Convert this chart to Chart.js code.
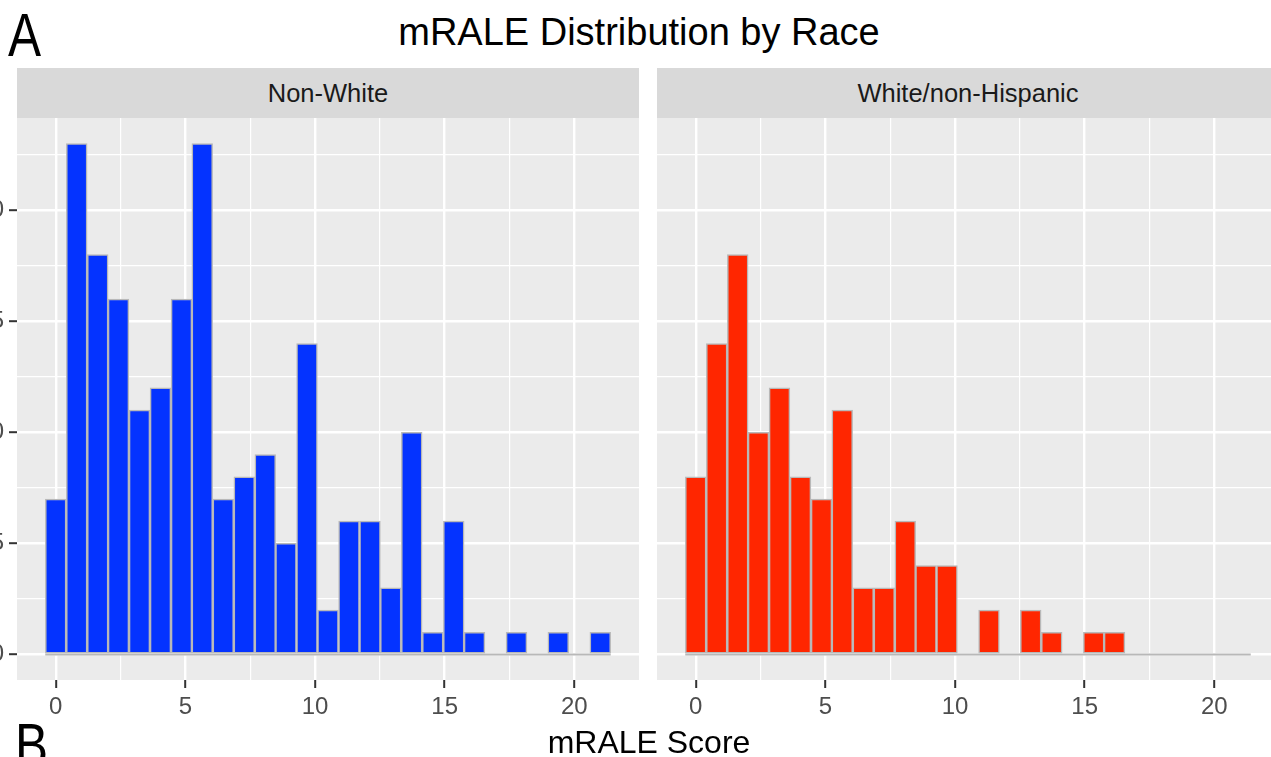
<!DOCTYPE html>
<html>
<head>
<meta charset="utf-8">
<title>mRALE Distribution by Race</title>
<script src="https://cdn.jsdelivr.net/npm/chart.js@4"></script>
<style>
  html, body {
    margin: 0;
    padding: 0;
    width: 1271px;
    height: 757px;
    overflow: hidden;
    background: #ffffff;
    font-family: 'Liberation Sans', Arial, Helvetica, sans-serif;
  }
  .abs { position: absolute; white-space: nowrap; line-height: 1; }
  .tag { font-size: 62px; color: #000; transform-origin: left top; transform: scaleX(0.8); }
  .strip {
    position: absolute;
    background: #d9d9d9;
    color: #1a1a1a;
    font-size: 25.5px;
    display: flex;
    align-items: center;
    justify-content: center;
  }
  canvas { position: absolute; }
</style>
</head>
<body>
<div class="abs tag" style="left:8px; top:4px;">A</div>
<div class="abs" style="left:0; width:1278px; top:13px; font-size:38px; text-align:center; color:#000;">mRALE Distribution by Race</div>

<div class="strip" style="left:17px; top:68px; width:622px; height:50px;">Non-White</div>
<div class="strip" style="left:657px; top:68px; width:622px; height:50px;">White/non-Hispanic</div>

<canvas id="nonWhiteChart" width="682" height="612" style="left:-43px; top:118px;"></canvas>
<canvas id="whiteChart" width="622" height="612" style="left:657px; top:118px;"></canvas>

<div class="abs" style="left:0; width:1298px; top:726px; font-size:32px; text-align:center; color:#000;">mRALE Score</div>
<div class="abs tag" style="left:15px; top:714px;">B</div>

<script>
// Histogram bins (mRALE score, bin midpoints) and counts per panel
const binCenters = [0, 0.81, 1.62, 2.42, 3.23, 4.04, 4.85, 5.65, 6.46, 7.27, 8.08, 8.88, 9.69, 10.5,
    11.31, 12.12, 12.92, 13.73, 14.54, 15.35, 16.15, 16.96, 17.77, 18.58, 19.38, 20.19, 21];
const binWidth = 0.81;

const nonWhiteCounts = [7, 23, 18, 16, 11, 12, 16, 23, 7, 8, 9, 5, 14, 2,
    6, 6, 3, 10, 1, 6, 1, 0, 1, 0, 1, 0, 1];
const whiteCounts = [8, 14, 18, 10, 12, 8, 7, 11, 3, 3, 6, 4, 4, 0,
    2, 0, 2, 1, 0, 1, 1, 0, 0, 0, 0, 0, 0];

// Axis ranges and grid / tick values
const xRange = [-1.494, 22.494];
const yRange = [-1.15, 24.15];
const xGridValues = [0, 2.5, 5, 7.5, 10, 12.5, 15, 17.5, 20, 22.5];
const yGridValues = [0, 2.5, 5, 7.5, 10, 12.5, 15, 17.5, 20, 22.5];
const xTickLabels = [0, 5, 10, 15, 20];
const yTickLabels = [0, 5, 10, 15, 20];

Chart.defaults.font.family = "'Liberation Sans', Arial, Helvetica, sans-serif";

// Grey panel background behind the grid
const panelBackground = {
    id: 'panelBackground',
    beforeDraw(chart) {
        const { ctx, chartArea } = chart;
        ctx.save();
        ctx.fillStyle = '#ebebeb';
        ctx.fillRect(chartArea.left, chartArea.top, chartArea.right - chartArea.left, chartArea.bottom - chartArea.top);
        ctx.restore();
    }
};

// Major gridlines sit on labelled values, minor ones halfway between
const isMajor = (ctx, labels) => !!ctx.tick && labels.includes(ctx.tick.value);

const makePanel = (canvasId, counts, fillColor, showYAxis) => {
    const bars = binCenters.map((x, i) => ({ x: x, y: counts[i] }));
    const baseline = [
        { x: binCenters[0] - binWidth / 2, y: 0 },
        { x: binCenters[binCenters.length - 1] + binWidth / 2, y: 0 }
    ];

    return new Chart(document.getElementById(canvasId), {
        type: 'bar',
        data: {
            datasets: [{
                type: 'bar',
                data: bars,
                backgroundColor: fillColor,
                borderColor: '#b8b8b8',
                borderWidth: 1.5,
                borderSkipped: false,
                barPercentage: 1,
                categoryPercentage: 1,
                order: 1
            }, {
                type: 'line',
                data: baseline,
                borderColor: '#b8b8b8',
                borderWidth: 2,
                pointRadius: 0,
                order: 2
            }]
        },
        options: {
            responsive: false,
            animation: false,
            devicePixelRatio: 1,
            layout: { padding: 0 },
            plugins: { legend: { display: false }, tooltip: { enabled: false } },
            scales: {
                x: {
                    type: 'linear',
                    offset: false,
                    min: xRange[0],
                    max: xRange[1],
                    afterBuildTicks: (axis) => { axis.ticks = xGridValues.map(v => ({ value: v })); },
                    afterFit: (axis) => {
                        axis.height = 50;
                        axis.paddingLeft = 0;
                        axis.paddingRight = 0;
                    },
                    border: { display: false },
                    grid: {
                        offset: false,
                        color: '#ffffff',
                        lineWidth: (ctx) => isMajor(ctx, xTickLabels) ? 2.4 : 1.2,
                        tickColor: (ctx) => isMajor(ctx, xTickLabels) ? '#333333' : 'rgba(0,0,0,0)',
                        tickWidth: 2,
                        tickLength: 8
                    },
                    ticks: {
                        padding: 5,
                        color: '#4d4d4d',
                        font: { size: 24 },
                        maxRotation: 0,
                        autoSkip: false,
                        callback: (value) => xTickLabels.includes(value) ? String(value) : ''
                    }
                },
                y: {
                    min: yRange[0],
                    max: yRange[1],
                    afterBuildTicks: (axis) => { axis.ticks = yGridValues.map(v => ({ value: v })); },
                    afterFit: (axis) => {
                        axis.width = showYAxis ? 60 : 0;
                        axis.paddingTop = 0;
                        axis.paddingBottom = 0;
                    },
                    border: { display: false },
                    grid: {
                        color: '#ffffff',
                        lineWidth: (ctx) => isMajor(ctx, yTickLabels) ? 2.4 : 1.2,
                        tickColor: (ctx) => showYAxis && isMajor(ctx, yTickLabels) ? '#333333' : 'rgba(0,0,0,0)',
                        tickWidth: 2,
                        tickLength: 8,
                        drawTicks: showYAxis
                    },
                    ticks: {
                        display: showYAxis,
                        padding: 5,
                        color: '#4d4d4d',
                        font: { size: 24 },
                        autoSkip: false,
                        callback: (value) => yTickLabels.includes(value) ? String(value) : ''
                    }
                }
            }
        },
        plugins: [panelBackground]
    });
};

makePanel('nonWhiteChart', nonWhiteCounts, '#0433ff', true);
makePanel('whiteChart', whiteCounts, '#ff2600', false);
</script>
</body>
</html>
